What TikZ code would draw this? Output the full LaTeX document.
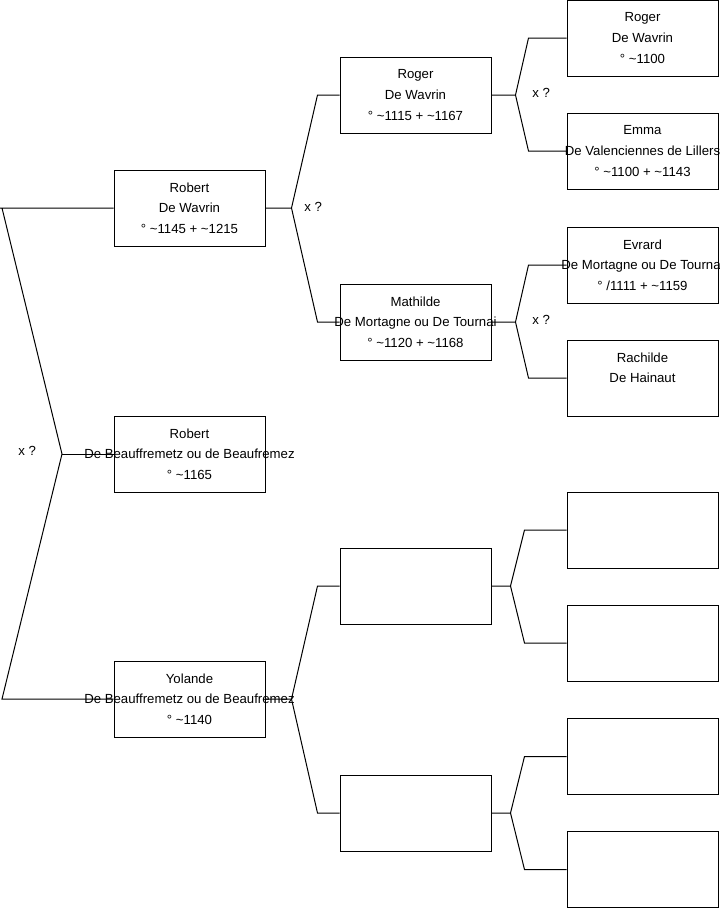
\documentclass[tikz,border=0pt]{standalone}
\usepackage{fontspec}
\setmainfont{Liberation Sans}
\usetikzlibrary{positioning, calc}

\tikzset{
  person/.style={rectangle, draw=black, fill=white, line width=0.75pt, minimum width=113.25pt, minimum height=57pt, inner sep=0pt},
  every label/.style={align=center, inner sep=0pt, font=\fontsize{9.9}{15.4}\selectfont},
  link/.style={draw=black, line width=0.75pt},
  unionmark/.style={anchor=west, inner sep=0pt, font=\fontsize{9.9}{11}\selectfont}
}
\newcommand{\ca}{\textasciitilde}

\begin{document}
\begin{tikzpicture}[x=0.75pt, y=-0.75pt]
        \useasboundingbox (0,0) rectangle (719,908);

        % Generation 1
        \node[person, label={center:{Robert\\De Wavrin\\° \ca1145 + \ca1215}}] (rw) at (189.5,208) {};
        \node[person, label={center:{Robert\\De Beauffremetz ou de Beaufremez\\° \ca1165}}] (rb) at (189.5,454) {};
        \node[person, label={center:{Yolande\\De Beauffremetz ou de Beaufremez\\° \ca1140}}] (yo) at (189.5,699) {};

        % Generation 2
        \node[person, label={center:{Roger\\De Wavrin\\° \ca1115 + \ca1167}}] (rg) at (415.5,95) {};
        \node[person, label={center:{Mathilde\\De Mortagne ou De Tournai\\° \ca1120 + \ca1168}}] (ma) at (415.5,322) {};
        \node[person] (ya) at (415.5,586) {};
        \node[person] (yb) at (415.5,813) {};

        % Generation 3
        \node[person, label={center:{Roger\\De Wavrin\\° \ca1100}}] (rgf) at (642.5,38) {};
        \node[person, label={center:{Emma\\De Valenciennes de Lillers\\° \ca1100 + \ca1143}}] (rgm) at (642.5,151) {};
        \node[person, label={center:{Evrard\\De Mortagne ou De Tournai\\° /1111 + \ca1159}}] (maf) at (642.5,265) {};
        \node[person, label={center:{Rachilde\\De Hainaut\\\mbox{}}}] (mam) at (642.5,378) {};
        \node[person] (yaf) at (642.5,530) {};
        \node[person] (yam) at (642.5,643) {};
        \node[person] (ybf) at (642.5,756.5) {};
        \node[person] (ybm) at (642.5,869.5) {};

        % Root
        \coordinate (r0) at (2,208);
        \coordinate (r1) at (62,454);
        \coordinate (r2) at (2,699);
        \draw[link] (rw.west) -- (0,208) -- (r0) -- (r1) -- (r2) -- (yo.west);
        \draw[link] (r1) -- (rb.west);
        \node[unionmark] (u0) at (18,451) {x ?};

        % Robert De Wavrin
        \draw[link] (rw.east) -- ++(26,0) coordinate (j1) -- ($(rg.west)+(-22,0)$) -- (rg.west);
        \draw[link] (j1) -- ($(ma.west)+(-22,0)$) -- (ma.west);
        \node[unionmark] (u1) at (304,207) {x ?};

        % Yolande
        \draw[link] (yo.east) -- ++(26,0) coordinate (j2) -- ($(ya.west)+(-22,0)$) -- (ya.west);
        \draw[link] (j2) -- ($(yb.west)+(-22,0)$) -- (yb.west);

        % Roger
        \draw[link] (rg.east) -- ++(24,0) coordinate (j3) -- ($(rgf.west)+(-38,0)$) -- (rgf.west);
        \draw[link] (j3) -- ($(rgm.west)+(-38,0)$) -- (rgm.west);
        \node[unionmark] (u3) at (532,93) {x ?};

        % Mathilde
        \draw[link] (ma.east) -- ++(24,0) coordinate (j4) -- ($(maf.west)+(-38,0)$) -- (maf.west);
        \draw[link] (j4) -- ($(mam.west)+(-38,0)$) -- (mam.west);
        \node[unionmark] (u4) at (532,320) {x ?};

        % empty branches
        \draw[link] (ya.east) -- ++(19,0) coordinate (j5) -- ($(yaf.west)+(-42,0)$) -- (yaf.west);
        \draw[link] (j5) -- ($(yam.west)+(-42,0)$) -- (yam.west);
        \draw[link] (yb.east) -- ++(19,0) coordinate (j6) -- ($(ybf.west)+(-42,0)$) -- (ybf.west);
        \draw[link] (j6) -- ($(ybm.west)+(-42,0)$) -- (ybm.west);
    \end{tikzpicture}
\end{document}
